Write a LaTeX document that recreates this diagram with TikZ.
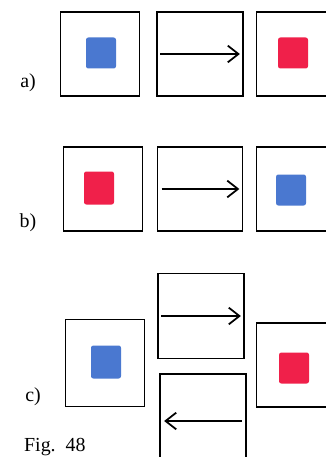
\documentclass[tikz,border=0pt]{standalone}
\usepackage{fontspec}
\setmainfont{Liberation Serif}
\usepackage{tikz}
\usetikzlibrary{arrows.meta, positioning}
\definecolor{fgBlue}{HTML}{4A78D0}
\definecolor{fgRed}{HTML}{F0204A}
\newcommand{\pxu}{*0.03cm}
\tikzset{
  panel/.style={draw, line width=1.5pt, minimum width=79\pxu, minimum height=84\pxu, inner sep=0pt},
  blob/.style={rounded corners=2pt, minimum width=30\pxu, minimum height=31\pxu, inner sep=0pt},
  blueblob/.style={blob, fill=fgBlue},
  redblob/.style={blob, fill=fgRed},
  moveto/.style={-{Straight Barb[length=3.2mm, width=5mm, line width=1.5pt]}, line width=1.4pt},
  rowlabel/.style={font=\fontsize{17}{20}\selectfont, anchor=base}
}
\begin{document}
\begin{tikzpicture}[x=0.03cm, y=-0.03cm]
  \useasboundingbox (0,0) rectangle (325,457);
  % row a
  \node[panel] (a1) at (100,54) {};
  \node[panel, minimum width=86\pxu] (a2) at (200,54) {};
  \node[panel] (a3) at (296,54) {};
  \node[blueblob] (ablue) at (101,53) {};
  \node[redblob] (ared) at (293,53) {};
  \draw[moveto] ([xshift=4\pxu]a2.west) -- ([xshift=-4\pxu]a2.east);
  \node[rowlabel] (la) at (28,88) {a)};
  % row b
  \node[panel] (b1) at (103,189) {};
  \node[panel, minimum width=85\pxu] (b2) at (200,189) {};
  \node[panel] (b3) at (296,189) {};
  \node[redblob, minimum height=33\pxu] (bred) at (99,188) {};
  \node[blueblob] (bblue) at (291,190) {};
  \draw[moveto] ([xshift=5\pxu]b2.west) -- ([xshift=-4\pxu]b2.east);
  \node[rowlabel] (lb) at (28,227) {b)};
  % row c
  \node[panel, minimum height=87\pxu] (c1) at (105,363) {};
  \node[panel, minimum width=86\pxu, minimum height=85\pxu] (c2) at (201,316) {};
  \node[panel, minimum width=86\pxu, minimum height=90\pxu] (c4) at (203,419) {};
  \node[panel] (c3) at (296,365) {};
  \node[blueblob, minimum height=33\pxu] (cblue) at (106,362) {};
  \node[redblob] (cred) at (294,368) {};
  \draw[moveto] ([xshift=4\pxu]c2.west) -- ([xshift=-4\pxu]c2.east);
  \draw[moveto] ([xshift=-5\pxu, yshift=-2\pxu]c4.east) -- ([xshift=5\pxu, yshift=-2\pxu]c4.west);
  \node[rowlabel] (lc) at (33,401) {c)};
  \node[rowlabel, anchor=base west] (fig) at (20,451) {Fig.\ \ 48};
\end{tikzpicture}
\end{document}
